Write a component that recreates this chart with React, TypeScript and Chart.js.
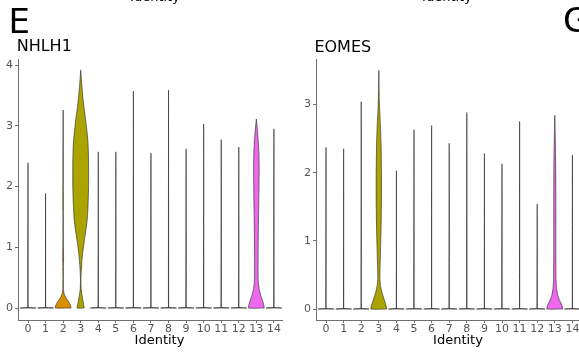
import React, { useEffect, useRef } from 'react';
import { Chart, registerables } from 'chart.js';

Chart.register(...registerables);

// ---------- data ----------
const identities = ['0', '1', '2', '3', '4', '5', '6', '7', '8', '9', '10', '11', '12', '13', '14'];

// top of each violin (maximum expression) per identity
const nhlh1Max = [2.39, 1.89, 3.26, 3.92, 2.57, 2.57, 3.57, 2.55, 3.59, 2.62, 3.03, 2.77, 2.65, 3.11, 2.95];
const eomesMax = [2.37, 2.35, 3.04, 3.5, 2.03, 2.63, 2.69, 2.43, 2.88, 2.28, 2.13, 2.75, 1.54, 2.84, 2.26];

// density outlines (expression level -> half width, in category units) for the expressing identities
const nhlh1Id2Levels = [0, 0.05, 0.1, 0.15, 0.2, 0.25, 0.32, 0.5, 0.7, 0.85, 1.0, 1.2, 1.6, 3.26];
const nhlh1Id2Widths = [0.45, 0.41, 0.32, 0.2, 0.1, 0.04, 0.015, 0.01, 0.014, 0.025, 0.015, 0.008, 0.005, 0];

const nhlh1Id3Levels = [0, 0.1, 0.2, 0.3, 0.4, 0.5, 0.6, 0.75, 0.9, 1.1, 1.25, 1.45, 1.7, 2.0, 2.4, 2.7, 2.9, 3.1, 3.3, 3.45, 3.6, 3.75, 3.92];
const nhlh1Id3Widths = [0.2, 0.14, 0.08, 0.03, 0.015, 0.015, 0.03, 0.06, 0.11, 0.2, 0.28, 0.37, 0.42, 0.45, 0.45, 0.42, 0.36, 0.28, 0.19, 0.13, 0.08, 0.04, 0];

const nhlh1Id13Levels = [0, 0.08, 0.15, 0.22, 0.3, 0.4, 0.5, 0.8, 1.2, 1.6, 2.0, 2.3, 2.5, 2.7, 2.85, 3.0, 3.11];
const nhlh1Id13Widths = [0.45, 0.4, 0.32, 0.24, 0.17, 0.12, 0.1, 0.1, 0.11, 0.13, 0.15, 0.16, 0.15, 0.12, 0.08, 0.04, 0];

const eomesId3Levels = [0, 0.08, 0.15, 0.25, 0.35, 0.45, 0.6, 0.9, 1.2, 1.6, 2.0, 2.4, 2.7, 2.9, 3.1, 3.3, 3.5];
const eomesId3Widths = [0.45, 0.38, 0.29, 0.17, 0.09, 0.06, 0.07, 0.1, 0.13, 0.15, 0.15, 0.13, 0.09, 0.05, 0.025, 0.01, 0];

const eomesId13Levels = [0, 0.06, 0.13, 0.2, 0.3, 0.45, 0.8, 1.5, 2.0, 2.3, 2.6, 2.84];
const eomesId13Widths = [0.45, 0.4, 0.27, 0.17, 0.1, 0.07, 0.06, 0.06, 0.055, 0.04, 0.02, 0];

// non-expressing identities: almost all cells at zero
const zeroLevels = [0, 0.008];
const zeroWidths = [0.45, 0.006];

const nhlh1YTicks = [0, 1, 2, 3, 4];
const eomesYTicks = [0, 1, 2, 3];

// ---------- styles ----------
const FONT = '"DejaVu Sans", sans-serif';
const identityFill = ['#F8766D', '#E58700', '#D89000', '#ABA300', '#6BB100', '#00BA38', '#00BF7D', '#00C0AF',
  '#00BCD8', '#00B0F6', '#619CFF', '#B983FF', '#E76BF3', '#ED68ED', '#FF67A4'];
const OUTLINE = 'rgba(45,45,45,0.72)';
const AXIS = '#6f6f6f';
const TICK_TEXT = '#555555';

type Profile = { levels: number[]; widths: number[] };

function buildDatasets(maxes: number[], shaped: Record<number, Profile>) {
  return maxes.map((mx, i) => {
    const isShaped = !!shaped[i];
    const prof: Profile = shaped[i] ?? {
      levels: [...zeroLevels, mx],
      widths: [...zeroWidths, 0],
    };
    const pts: { x: number; y: number }[] = [];
    prof.levels.forEach((lv, k) => pts.push({ x: i + prof.widths[k], y: lv }));
    for (let k = prof.levels.length - 1; k >= 0; k--) pts.push({ x: i - prof.widths[k], y: prof.levels[k] });
    pts.push({ ...pts[0] });
    return {
      data: pts,
      fill: 'shape',
      backgroundColor: isShaped ? identityFill[i] : OUTLINE,
      borderColor: OUTLINE,
      borderWidth: 0.9,
      pointRadius: 0,
      // non-zero tension makes Chart.js use its regular path (not the per-pixel fast path)
      tension: isShaped ? 0.12 : 0.0001,
    };
  });
}

type PanelProps = {
  left: number;
  width: number;
  maxes: number[];
  shaped: Record<number, Profile>;
  yMin: number;
  yMax: number;
  yTicks: number[];
  yAxisWidth: number;
  padRight: number;
};

function ViolinPanel(p: PanelProps) {
  const ref = useRef<HTMLCanvasElement>(null);
  useEffect(() => {
    const axisCommon = {
      grid: { drawOnChartArea: false, drawTicks: true, tickLength: 3, color: AXIS, lineWidth: 1 },
      border: { display: true, color: AXIS, width: 1 },
    };
    const chart = new Chart(ref.current as HTMLCanvasElement, {
      type: 'line',
      data: { datasets: buildDatasets(p.maxes, p.shaped) as any },
      options: {
        animation: false,
        responsive: false,
        devicePixelRatio: 1,
        layout: { padding: { top: 59, right: p.padRight, left: 0, bottom: 0 } },
        plugins: { legend: { display: false }, tooltip: { enabled: false }, title: { display: false } },
        elements: { point: { radius: 0 }, line: { borderJoinStyle: 'round' } },
        scales: {
          x: {
            type: 'linear',
            min: -0.57,
            max: 14.5,
            afterBuildTicks: (s: any) => {
              s.ticks = identities.map((_, i) => ({ value: i }));
            },
            afterFit: (s: any) => {
              s.height = 32;
            },
            ticks: {
              autoSkip: false,
              maxRotation: 0,
              padding: 0,
              color: TICK_TEXT,
              font: { family: FONT, size: 11 },
              callback: (v: any) => identities[Math.round(Number(v))],
            },
            ...axisCommon,
          },
          y: {
            type: 'linear',
            min: p.yMin,
            max: p.yMax,
            afterBuildTicks: (s: any) => {
              s.ticks = p.yTicks.map((v) => ({ value: v }));
            },
            afterFit: (s: any) => {
              s.width = p.yAxisWidth;
            },
            ticks: {
              padding: 2,
              color: TICK_TEXT,
              font: { family: FONT, size: 11 },
              callback: (v: any) => String(v),
            },
            ...axisCommon,
          },
        },
      } as any,
    });
    return () => chart.destroy();
  }, []);
  return (
    <canvas
      ref={ref}
      width={p.width}
      height={352}
      style={{ position: 'absolute', left: p.left, top: 0, width: p.width, height: 352 }}
    />
  );
}

function Txt({ x, baseline, size, center, children }: { x: number; baseline: number; size: number; center?: boolean; children: React.ReactNode }) {
  return (
    <div
      style={{
        position: 'absolute',
        left: x,
        top: baseline - 0.846 * size,
        fontFamily: FONT,
        fontSize: size,
        lineHeight: `${size}px`,
        whiteSpace: 'nowrap',
        color: '#000',
        transform: center ? 'translateX(-50%)' : undefined,
      }}
    >
      {children}
    </div>
  );
}

export default function App() {
  return (
    <div
      style={{
        position: 'fixed',
        left: 0,
        top: 0,
        width: 579,
        height: 352,
        overflow: 'hidden',
        background: '#fff',
      }}
    >
      <ViolinPanel
        left={0}
        width={290}
        maxes={nhlh1Max}
        shaped={{
          2: { levels: nhlh1Id2Levels, widths: nhlh1Id2Widths },
          3: { levels: nhlh1Id3Levels, widths: nhlh1Id3Widths },
          13: { levels: nhlh1Id13Levels, widths: nhlh1Id13Widths },
        }}
        yMin={-0.1975}
        yMax={4.099}
        yTicks={nhlh1YTicks}
        yAxisWidth={18}
        padRight={7.3}
      />
      <ViolinPanel
        left={290}
        width={300}
        maxes={eomesMax}
        shaped={{
          3: { levels: eomesId3Levels, widths: eomesId3Widths },
          13: { levels: eomesId13Levels, widths: eomesId13Widths },
        }}
        yMin={-0.161}
        yMax={3.667}
        yTicks={eomesYTicks}
        yAxisWidth={26}
        padRight={8.8}
      />
      <Txt x={155} baseline={1.2} size={13} center>Identity</Txt>
      <Txt x={447} baseline={1.2} size={13} center>Identity</Txt>
      <Txt x={8.4} baseline={33} size={34}>E</Txt>
      <Txt x={563} baseline={32} size={34}>G</Txt>
      <Txt x={16.7} baseline={51.7} size={16}>NHLH1</Txt>
      <Txt x={314.4} baseline={52.3} size={16}>EOMES</Txt>
      <Txt x={159.5} baseline={344} size={13} center>Identity</Txt>
      <Txt x={458} baseline={344} size={13} center>Identity</Txt>
    </div>
  );
}
